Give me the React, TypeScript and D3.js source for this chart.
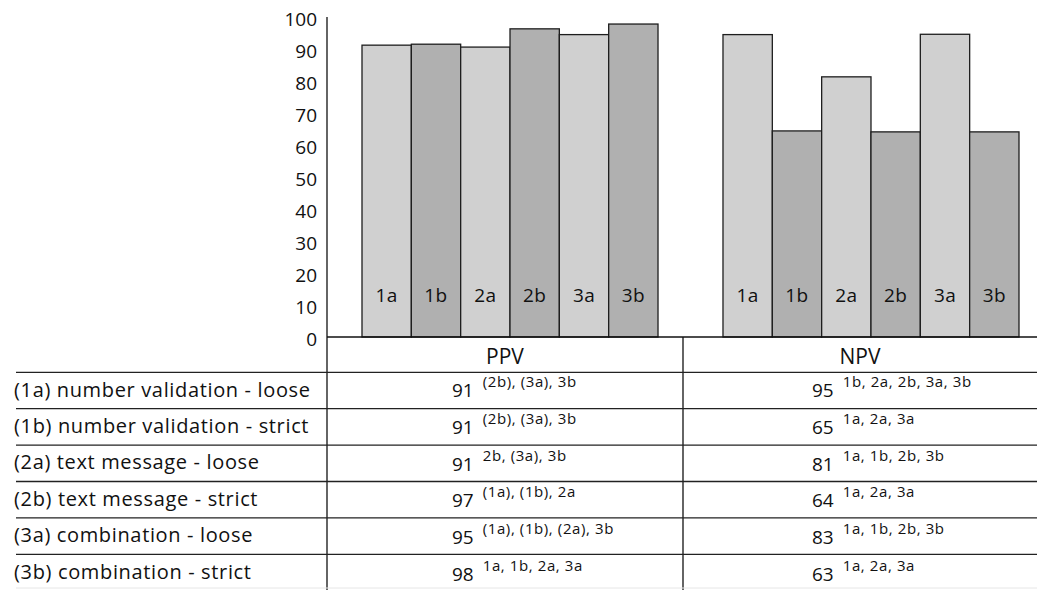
import React from "react";
import * as d3 from "d3";

const groups = ["PPV", "NPV"];
const methods = ["1a", "1b", "2a", "2b", "3a", "3b"];
const ppvBars = [91.2, 91.5, 90.6, 96.3, 94.5, 97.8];
const npvBars = [94.5, 64.4, 81.3, 64.1, 94.6, 64.1];
const yTicks = [0, 10, 20, 30, 40, 50, 60, 70, 80, 90, 100];

const rowLabels = [
  "(1a) number validation - loose",
  "(1b) number validation - strict",
  "(2a) text message - loose",
  "(2b) text message - strict",
  "(3a) combination - loose",
  "(3b) combination - strict",
];
const ppvValues = ["91", "91", "91", "97", "95", "98"];
const ppvSup = [
  "(2b), (3a), 3b",
  "(2b), (3a), 3b",
  "2b, (3a), 3b",
  "(1a), (1b), 2a",
  "(1a), (1b), (2a), 3b",
  "1a, 1b, 2a, 3a",
];
const npvValues = ["95", "65", "81", "64", "83", "63"];
const npvSup = [
  "1b, 2a, 2b, 3a, 3b",
  "1a, 2a, 3a",
  "1a, 1b, 2b, 3b",
  "1a, 2a, 3a",
  "1a, 1b, 2b, 3b",
  "1a, 2a, 3a",
];

const W = 1037;
const H = 590;
const FONT = "'Open Sans', 'Noto Sans', sans-serif";

export default function App() {
  const y = d3.scaleLinear().domain([0, 100]).range([337, 17]);
  const xGroup = d3.scaleBand().domain(groups).range([362, 1019]).paddingInner(0.18).paddingOuter(0);
  const xInner = d3.scaleBand().domain(methods).range([0, xGroup.bandwidth()]).padding(0);
  const barData = [ppvBars, npvBars];

  const axisX = 327;
  const colDiv = 683;
  const colCenters = [(axisX + colDiv) / 2, (colDiv + W) / 2];
  const headerTop = y(0);
  const headerBottom = 372.3;
  const rowH = 36.4;
  const rowY = d3.range(rowLabels.length + 1).map((i) => headerBottom + i * rowH);
  const valueStore = [
    { vals: ppvValues, sups: ppvSup },
    { vals: npvValues, sups: npvSup },
  ];

  return (
    <svg
      width={W}
      height={H}
      style={{ position: "absolute", left: 0, top: 0, background: "#fff" }}
      fontFamily={FONT}
    >
      <rect x={0} y={0} width={W} height={H} fill="#fff" />
      {groups.map((g, gi) =>
        methods.map((m, mi) => {
          const x0 = (xGroup(g) as number) + (xInner(m) as number);
          const v = barData[gi][mi];
          return (
            <g key={g + m}>
              <rect
                x={x0}
                y={y(v)}
                width={xInner.bandwidth()}
                height={y(0) - y(v)}
                fill={mi % 2 === 0 ? "#d0d0d0" : "#b0b0b0"}
                stroke="#1e1e1e"
                strokeWidth={1.3}
              />
              <text
                x={x0 + xInner.bandwidth() / 2}
                y={301.5}
                textAnchor="middle"
                fontSize={19}
                letterSpacing={0.4}
                fill="#111"
              >
                {m}
              </text>
            </g>
          );
        })
      )}
      <line x1={axisX} x2={axisX} y1={y(100)} y2={H} stroke="#111" strokeWidth={1.3} />
      {yTicks.map((t) => (
        <text key={t} x={317} y={y(t) + 9.3} textAnchor="end" fontSize={19} fill="#111">
          {t}
        </text>
      ))}
      <line x1={axisX} x2={W} y1={headerTop} y2={headerTop} stroke="#111" strokeWidth={1.3} />
      <line x1={colDiv} x2={colDiv} y1={headerTop} y2={H} stroke="#111" strokeWidth={1.3} />
      {groups.map((g, gi) => (
        <text key={g} x={colCenters[gi]} y={364} textAnchor="middle" fontSize={21} fill="#111">
          {g}
        </text>
      ))}
      {rowY.slice(0, rowLabels.length).map((ry, i) => (
        <line key={"rl" + i} x1={16} x2={W} y1={ry} y2={ry} stroke="#222" strokeWidth={1.3} />
      ))}
      <line x1={16} x2={W} y1={588} y2={588} stroke="#e6e6e6" strokeWidth={1} />
      {rowLabels.map((lab, i) => {
        const cy = (rowY[i] + rowY[i + 1]) / 2;
        return (
          <g key={lab}>
            <text x={14} y={cy + 6} fontSize={20} letterSpacing={0.65} fill="#111">
              {lab}
            </text>
            {valueStore.map((vs, gi) => (
              <text
                key={gi}
                x={gi === 0 ? 452 : 812}
                y={cy + 6.5 + i * 0.4}
                fontSize={19}
                fill="#111"
              >
                <tspan>{vs.vals[i]}</tspan>
                <tspan dx={9} dy={-10} fontSize={15} letterSpacing={0.6}>
                  {vs.sups[i]}
                </tspan>
              </text>
            ))}
          </g>
        );
      })}
    </svg>
  );
}
